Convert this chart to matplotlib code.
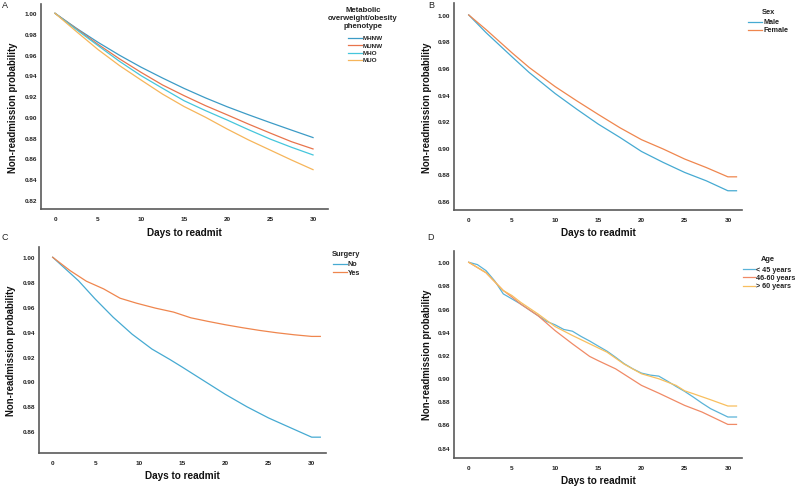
import matplotlib
matplotlib.use("Agg")
import matplotlib.pyplot as plt
from matplotlib.lines import Line2D
from matplotlib.transforms import Bbox, TransformedBbox

plt.rcParams['font.family'] = ['Liberation Sans', 'DejaVu Sans']

# ---------------- data ----------------
# Panel A: metabolic overweight/obesity phenotype
A_days = [0, 2.5, 5, 7.5, 10, 12.5, 15, 17.5, 20, 22.5, 25, 27.5, 30]
A_MHNW = [1.000, 0.9855, 0.9720, 0.9595, 0.9480, 0.9375, 0.9275, 0.9183, 0.9098, 0.9020, 0.8945, 0.8872, 0.8800]
A_MUNW = [1.000, 0.9850, 0.9700, 0.9560, 0.9430, 0.9308, 0.9205, 0.9108, 0.9020, 0.8930, 0.8844, 0.8760, 0.8690]
A_MHO = [1.000, 0.9842, 0.9688, 0.9536, 0.9398, 0.9276, 0.9156, 0.9060, 0.8970, 0.8876, 0.8786, 0.8706, 0.8632]
A_MUO = [1.000, 0.9823, 0.9650, 0.9495, 0.9356, 0.9220, 0.9100, 0.8996, 0.8883, 0.8777, 0.8680, 0.8583, 0.8490]
A_labels = ["MHNW", "MUNW", "MHO", "MUO"]

# Panel B: sex
B_days = [0, 2, 5, 7, 10, 12.5, 15, 17.5, 20, 22.5, 25, 27.5, 30, 31]
B_male = [1.000, 0.9867, 0.9685, 0.9566, 0.9408, 0.9290, 0.9177, 0.9077, 0.8971, 0.8889, 0.8813, 0.8750, 0.8675, 0.8675]
B_female = [1.000, 0.9890, 0.9715, 0.9604, 0.9460, 0.9353, 0.9250, 0.9150, 0.9060, 0.8990, 0.8914, 0.8850, 0.8780, 0.8780]
B_labels = ["Male", "Female"]

# Panel C: surgery
C_days_no = [0, 3, 4.9, 7, 9.2, 11.5, 13.6, 15, 17.5, 20, 22.5, 25, 27.9, 30, 31]
C_no = [1.000, 0.981, 0.9665, 0.9517, 0.938, 0.926, 0.9175, 0.9115, 0.9005, 0.8895,
        0.8795, 0.8705, 0.8615, 0.855, 0.855]
C_days_yes = [0, 2, 3.9, 5.9, 7.8, 9.7, 11.9, 14, 16, 18, 20, 22, 24, 26, 28, 30, 31]
C_yes = [1.000, 0.9893, 0.9807, 0.9745, 0.9670, 0.9630, 0.9590, 0.9558, 0.9512, 0.9483,
         0.9456, 0.9432, 0.9410, 0.9391, 0.9375, 0.9362, 0.9362]
C_labels = ["No", "Yes"]

# Panel D: age
D_days_y = list(range(0, 31)) + [31]
D_lt45 = [1.000, 0.998, 0.9928, 0.984, 0.9727, 0.9684, 0.964, 0.959, 0.954, 0.949, 0.946,
          0.942, 0.9405, 0.936, 0.932, 0.9276, 0.9233, 0.918, 0.9124, 0.908, 0.9043,
          0.9026, 0.9017, 0.8974, 0.8928, 0.8885, 0.8836, 0.8784, 0.8736, 0.870, 0.8664, 0.8664]
D_days_m = [0, 2, 4, 5, 6, 7, 8, 10, 12, 14, 15, 17, 20, 22, 25, 27, 30, 31]
D_4660 = [1.000, 0.991, 0.9756, 0.970, 0.964, 0.959, 0.954, 0.941, 0.9296, 0.9187, 0.915,
          0.908, 0.8937, 0.887, 0.8764, 0.8707, 0.860, 0.860]
D_days_o = [0, 2, 4, 5, 6, 8, 10, 12, 14, 16, 18, 20, 22, 24, 25, 26, 28, 30, 31]
D_gt60 = [1.000, 0.991, 0.9756, 0.9713, 0.9655, 0.9555, 0.9445, 0.9368, 0.9296, 0.9224,
          0.912, 0.9037, 0.8994, 0.8937, 0.889, 0.8865, 0.8813, 0.8759, 0.8759]
D_labels = ["< 45 years", "46-60 years", "> 60 years"]

xticks = [0, 5, 10, 15, 20, 25, 30]
A_yticks = [0.82, 0.84, 0.86, 0.88, 0.90, 0.92, 0.94, 0.96, 0.98, 1.00]
B_yticks = [0.86, 0.88, 0.90, 0.92, 0.94, 0.96, 0.98, 1.00]
C_yticks = [0.86, 0.88, 0.90, 0.92, 0.94, 0.96, 0.98, 1.00]
D_yticks = [0.84, 0.86, 0.88, 0.90, 0.92, 0.94, 0.96, 0.98, 1.00]

# ---------------- styling ----------------
W, H = 795, 489
fig = plt.figure(figsize=(W / 100, H / 100), dpi=100)
fig.patch.set_facecolor("white")

def fx(px):
    return px / W

def fy(py):
    return 1 - py / H

def make_ax(l, t, r, b, xlim, ylim, yticks):
    ax = fig.add_axes([fx(l), fy(b), fx(r) - fx(l), fy(t) - fy(b)])
    ax.set_xlim(*xlim)
    ax.set_ylim(*ylim)
    for s in ["top", "right"]:
        ax.spines[s].set_visible(False)
    for s in ["left", "bottom"]:
        ax.spines[s].set_color("#5a5a5a")
        ax.spines[s].set_linewidth(1.2)
    ax.set_xticks(xticks)
    ax.set_yticks(yticks)
    ax.set_yticklabels([f"{v:.2f}" for v in yticks])
    ax.tick_params(axis="both", length=0, labelsize=4.6, colors="#222222")
    ax.tick_params(axis="y", pad=3)
    ax.tick_params(axis="x", pad=5)
    for lab in ax.get_xticklabels() + ax.get_yticklabels():
        lab.set_fontweight("bold")
    return ax

LW = 0.9

axA = make_ax(41, 5, 328, 210, (-1.63, 31.74), (0.811, 1.009), A_yticks)
colsA = ["#3c9bc6", "#e8744c", "#45c6dc", "#f6b55a"]
for ys, c in zip([A_MHNW, A_MUNW, A_MHO, A_MUO], colsA):
    axA.plot(A_days, ys, color=c, lw=LW)

axB = make_ax(454.3, 4, 741.7, 211, (-1.67, 31.6), (0.853, 1.009), B_yticks)
colsB = ["#46aad2", "#ef864e"]
axB.plot(B_days, B_male, color=colsB[0], lw=LW)
axB.plot(B_days, B_female, color=colsB[1], lw=LW)

axC = make_ax(39.3, 247.7, 326, 454.3, (-1.55, 31.66), (0.842, 1.0085), C_yticks)
colsC = ["#46aad2", "#ef864e"]
axC.plot(C_days_no, C_no, color=colsC[0], lw=LW)
axC.plot(C_days_yes, C_yes, color=colsC[1], lw=LW)

axD = make_ax(454.3, 251.7, 741.7, 459, (-1.67, 31.6), (0.831, 1.010), D_yticks)
colsD = ["#5ab3d8", "#f08a66", "#f8bf5e"]
axD.plot(D_days_y, D_lt45, color=colsD[0], lw=LW)
axD.plot(D_days_m, D_4660, color=colsD[1], lw=LW)
axD.plot(D_days_o, D_gt60, color=colsD[2], lw=LW)

# axis labels
LABFS = 7.2
for (xc, yc, xl, yl) in [
    (184.5, 233, 13, 107.5),
    (598, 233.3, 427.5, 107.5),
    (182.6, 476, 11.5, 351),
    (598, 481, 427.5, 355),
]:
    fig.text(fx(xc), fy(yc), "Days to readmit", ha="center", va="center",
             fontsize=LABFS, fontweight="bold", color="#111111")
    fig.text(fx(xl), fy(yl), "Non-readmission probability", ha="center", va="center",
             rotation=90, fontsize=LABFS * 0.97, fontweight="bold", color="#111111")

# panel letters
for (xc, yc, s) in [(5, 6, "A"), (431, 6, "B"), (5, 238, "C"), (431, 238, "D")]:
    fig.text(fx(xc), fy(yc), s, ha="center", va="center", fontsize=6.5, color="#222222")

# legends (drawn manually)
clipA = TransformedBbox(Bbox([[0, 0], [400 / W, 1]]), fig.transFigure)

def legend(title_lines, title_cx, title_ys, line_x0, line_x1, text_x, ys, labels, colors,
           tfs, efs, clip=None):
    for tl, ty in zip(title_lines, title_ys):
        t = fig.text(fx(title_cx), fy(ty), tl, ha="center", va="center",
                     fontsize=tfs, fontweight="bold", color="#222222")
        if clip is not None:
            t.set_clip_box(clip)
            t.set_clip_on(True)
    for y, lab, c in zip(ys, labels, colors):
        fig.add_artist(Line2D([fx(line_x0), fx(line_x1)], [fy(y), fy(y)],
                              transform=fig.transFigure, color=c, lw=LW))
        fig.text(fx(text_x), fy(y), lab, ha="left", va="center",
                 fontsize=efs, fontweight="bold", color="#222222")

legend(["Metabolic", "overweight/obesity", "phenotype"], 363, [11, 18.5, 26],
       348, 361.5, 363, [38.5, 46, 53.5, 61], A_labels, colsA, 5.6, 4.6, clip=clipA)
legend(["Sex"], 768, [12.7], 748, 762, 763, [23, 30.7], B_labels, colsB, 5.4, 5.2)
legend(["Surgery"], 346, [255], 333, 347, 348, [265, 273.3], C_labels, colsC, 5.4, 5.2)
legend(["Age"], 767.7, [260], 743, 755, 755.5, [270, 278.3, 286.7], D_labels, colsD, 5.4, 5.2)

fig.savefig("out.png", dpi=100, facecolor="white")
